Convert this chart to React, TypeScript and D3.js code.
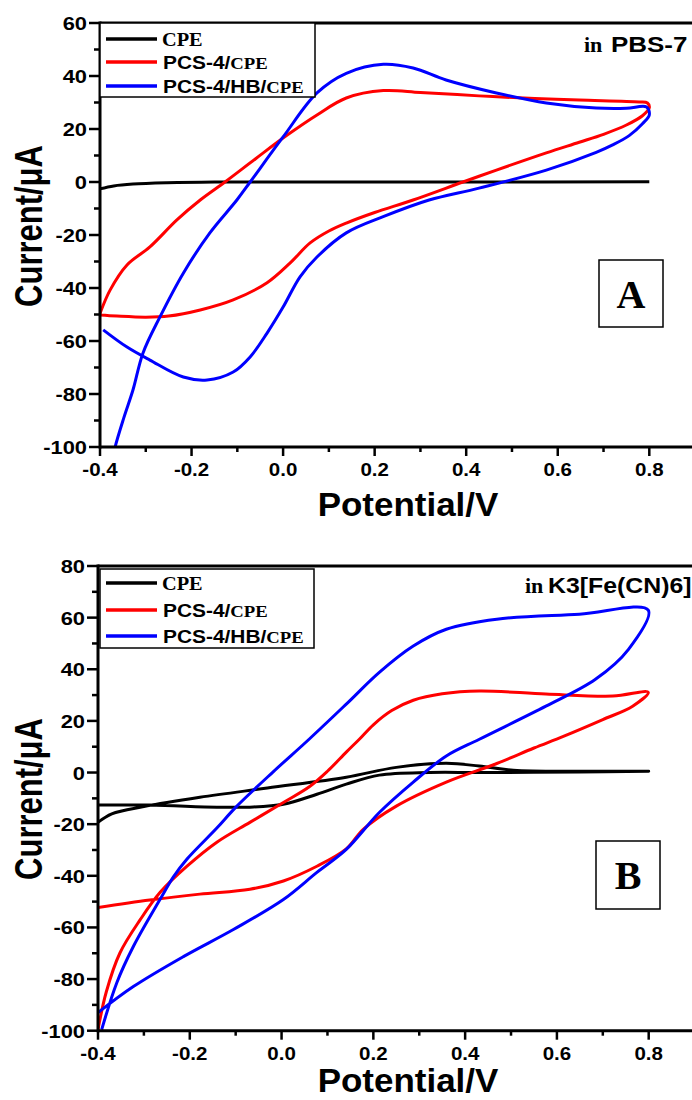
import React from "react";
import * as d3 from "d3";

type Pt = [number, number];

// ---------- Data (potential V, current µA) ----------
const xTickValues = [-0.4, -0.2, 0.0, 0.2, 0.4, 0.6, 0.8];
const xMinorValues = [-0.3, -0.1, 0.1, 0.3, 0.5, 0.7];
const yTicksA = [-100, -80, -60, -40, -20, 0, 20, 40, 60];
const yTicksB = [-100, -80, -60, -40, -20, 0, 20, 40, 60, 80];
const seriesNames = ["CPE", "PCS-4/", "PCS-4/HB/"];
const seriesColors = ["#000000", "#ff0000", "#0000ff"];

const cpeA: Pt[] = [
  [-0.4, -2.6], [-0.37, -1.5], [-0.328, -0.8], [-0.254, -0.3], [-0.15, 0], [0.0, 0], [0.4, 0], [0.8, 0.1],
];
const pcsA: Pt[] = [
  [-0.4, -49.6], [-0.378, -40.8], [-0.341, -31.3], [-0.291, -24.5], [-0.232, -14.3], [-0.181, -6.8],
  [-0.127, 0], [-0.06, 8.8], [0.009, 17.7], [0.074, 25.3], [0.138, 31.7], [0.219, 34.5], [0.3, 33.8],
  [0.428, 32.5], [0.55, 31.5], [0.647, 30.9], [0.778, 30.2], [0.796, 29.8], [0.8, 28],
  [0.785, 25], [0.75, 21.5], [0.7, 18], [0.647, 15], [0.575, 11], [0.466, 4.5], [0.393, 0], [0.284, -6.8],
  [0.2, -11.5], [0.138, -15.5], [0.1, -18.5], [0.059, -23], [0.015, -30.6], [-0.035, -38],
  [-0.109, -44.5], [-0.181, -48.3], [-0.25, -50.6], [-0.3, -51], [-0.363, -50.6], [-0.4, -50.2],
];
const hbA: Pt[] = [
  [-0.374, -106], [-0.367, -100], [-0.348, -89], [-0.328, -78.5], [-0.306, -64.5], [-0.269, -50.9],
  [-0.218, -34.4], [-0.16, -19.2], [-0.101, -6.8], [-0.072, 0], [0.0, 17], [0.074, 33.6], [0.138, 41],
  [0.219, 44.4], [0.284, 43], [0.356, 38.5], [0.466, 33.6], [0.575, 29.8], [0.684, 27.9], [0.75, 27.8],
  [0.794, 28.3], [0.8, 25.3], [0.785, 22], [0.756, 17.5], [0.72, 14], [0.684, 11.2], [0.575, 4.5],
  [0.428, -2.3], [0.319, -6.8], [0.22, -13], [0.138, -19.2], [0.074, -28.3], [0.037, -35.8],
  [0.0, -47.2], [-0.035, -57], [-0.072, -66], [-0.109, -71.7], [-0.166, -74.7], [-0.218, -73.6],
  [-0.291, -67.2], [-0.341, -62.3], [-0.393, -55.8],
];

const cpeB: Pt[] = [
  [-0.4, -19.3], [-0.37, -16], [-0.3, -13.2], [-0.178, -9.6], [-0.031, -6], [0.141, -1.8], [0.25, 2],
  [0.359, 3.6], [0.431, 2.5], [0.505, 0.9], [0.649, 0.5], [0.8, 0.5],
  [0.649, 0.2], [0.43, 0], [0.322, 0], [0.213, -1], [0.141, -4.5], [0.077, -8.4], [0.004, -12.3],
  [-0.069, -13.4], [-0.141, -13.4], [-0.287, -12.6], [-0.4, -12.6],
];
const pcsB: Pt[] = [
  [-0.4, -99.6], [-0.382, -85], [-0.352, -69.8], [-0.308, -57], [-0.265, -46.5], [-0.206, -36.3],
  [-0.141, -27], [-0.069, -19.3], [0.004, -11.6], [0.062, -5.3], [0.1, 0.5], [0.141, 7.9], [0.17, 13],
  [0.2, 18.5], [0.24, 24], [0.287, 28], [0.35, 30.5], [0.431, 31.6], [0.576, 30.4], [0.722, 29.6],
  [0.799, 31.1], [0.765, 25.7], [0.7, 20.5], [0.614, 14], [0.55, 9.5], [0.469, 3.5], [0.359, -3.7],
  [0.25, -13], [0.178, -22], [0.141, -29.6], [0.077, -36.3], [0.004, -42], [-0.069, -45.2],
  [-0.178, -47.1], [-0.287, -49.4], [-0.4, -52.3],
];
const hbB: Pt[] = [
  [-0.392, -99.6], [-0.359, -81.4], [-0.323, -67.4], [-0.265, -49.2], [-0.236, -40.5], [-0.206, -33.5],
  [-0.141, -21.5], [-0.1, -13.5], [-0.02, 0], [0.06, 12.9], [0.141, 26.5], [0.213, 38.8], [0.287, 49],
  [0.359, 55.5], [0.469, 59.4], [0.649, 61.3], [0.799, 62.9],
  [0.756, 47.7], [0.684, 36.1], [0.576, 25.7], [0.431, 12.9], [0.359, 6.4], [0.287, -3.7],
  [0.213, -15.5], [0.141, -29.8], [0.077, -38.7], [0.004, -49.2], [-0.105, -60.8], [-0.214, -71.3],
  [-0.323, -82.9], [-0.4, -93],
];

const SANS = "'Liberation Sans', Arial, sans-serif";
const SERIF = "'Liberation Serif', 'Times New Roman', serif";

function T(props: {
  x: number; y: number; fs: number; sx?: number; family?: string; anchor?: string;
  rotate?: number; children: React.ReactNode;
}) {
  const { x, y, fs, sx = 1, family = SANS, anchor = "start", rotate = 0, children } = props;
  return (
    <text
      transform={`translate(${x},${y}) scale(${sx},1) rotate(${rotate})`}
      fontFamily={family}
      fontWeight="bold"
      fontSize={fs}
      textAnchor={anchor}
      fill="#000"
    >
      {children}
    </text>
  );
}

type PanelProps = {
  id: string;
  xRange: [number, number];
  yDomain: [number, number];
  yRange: [number, number];
  yTicks: number[];
  curves: Pt[][];
  legendBox: [number, number, number, number];
  legendRows: number[];
  inLabel: { x: number; xMain: number; y: number; text: string; sx: number };
  letter: { x: number; y: number; w: number; h: number; text: string };
  yTitleY: number;
  xTitleY: number;
};

function Panel(p: PanelProps) {
  const x = d3.scaleLinear().domain([-0.4, 0.8]).range(p.xRange);
  const y = d3.scaleLinear().domain(p.yDomain).range(p.yRange);
  const x0 = p.xRange[0];
  const yTop = p.yRange[1];
  const yBot = p.yRange[0];
  const line = d3
    .line<Pt>()
    .x((d) => x(d[0]))
    .y((d) => y(d[1]))
    .curve(d3.curveCatmullRom.alpha(0.5));
  const yMinor = p.yTicks.slice(0, -1).map((v) => v + 10);
  const [lx, ly, lw, lh] = p.legendBox;
  return (
    <g>
      <defs>
        <clipPath id={`clip-${p.id}`}>
          <rect x={x0} y={yTop} width={700 - x0} height={yBot - yTop} />
        </clipPath>
      </defs>
      <g clipPath={`url(#clip-${p.id})`}>
        {p.curves.map((c, i) => (
          <path key={i} d={line(c) || ""} fill="none" stroke={seriesColors[i]} strokeWidth={3} strokeLinejoin="round" />
        ))}
      </g>
      {/* frame */}
      <line x1={x0} x2={700} y1={yTop} y2={yTop} stroke="#000" strokeWidth={3} />
      <line x1={x0} x2={x0} y1={yTop - 1.5} y2={yBot + 1.5} stroke="#000" strokeWidth={3} />
      <line x1={x0} x2={700} y1={yBot} y2={yBot} stroke="#000" strokeWidth={3} />
      {/* y ticks */}
      {p.yTicks.map((v) => (
        <g key={`yt${v}`}>
          <line x1={x0 - 11} x2={x0} y1={y(v)} y2={y(v)} stroke="#000" strokeWidth={2.5} />
          <T x={x0 - 13} y={y(v) + 7} fs={19} sx={1.15} anchor="end">{String(v)}</T>
        </g>
      ))}
      {yMinor.map((v) => (
        <line key={`ym${v}`} x1={x0 - 6} x2={x0} y1={y(v)} y2={y(v)} stroke="#000" strokeWidth={2.5} />
      ))}
      {/* x ticks */}
      {xTickValues.map((v) => (
        <g key={`xt${v}`}>
          <line x1={x(v)} x2={x(v)} y1={yBot} y2={yBot + 9} stroke="#000" strokeWidth={2.5} />
          <T x={x(v)} y={yBot + 29} fs={19} sx={1.08} anchor="middle">{v.toFixed(1)}</T>
        </g>
      ))}
      {xMinorValues.map((v) => (
        <line key={`xm${v}`} x1={x(v)} x2={x(v)} y1={yBot} y2={yBot + 5} stroke="#000" strokeWidth={2.5} />
      ))}
      {/* axis titles */}
      <T x={42} y={p.yTitleY} fs={31} sx={1.25} anchor="middle" rotate={-90}>Current/μA</T>
      <T x={408} y={p.xTitleY} fs={33} sx={1.06} anchor="middle">Potential/V</T>
      {/* legend */}
      <rect x={lx} y={ly} width={lw} height={lh} fill="#fff" stroke="#000" strokeWidth={1.5} />
      {seriesNames.map((n, i) => (
        <g key={n}>
          <line x1={lx + 6} x2={lx + 57} y1={p.legendRows[i]} y2={p.legendRows[i]} stroke={seriesColors[i]} strokeWidth={3.5} />
          {i === 0 ? (
            <T x={lx + 62} y={p.legendRows[i] + 6.5} fs={18.5} sx={1.1} family={SERIF}>CPE</T>
          ) : (
            <T x={lx + 63} y={p.legendRows[i] + 6.5} fs={19} sx={1.1}>
              {n}
              <tspan fontFamily={SERIF} fontSize={17}>CPE</tspan>
            </T>
          )}
        </g>
      ))}
      {/* medium label */}
      <T x={p.inLabel.x} y={p.inLabel.y} fs={22} family={SERIF}>in</T>
      <T x={p.inLabel.xMain} y={p.inLabel.y} fs={22} sx={p.inLabel.sx}>{p.inLabel.text}</T>
      {/* panel letter */}
      <rect x={p.letter.x} y={p.letter.y} width={p.letter.w} height={p.letter.h} fill="#fff" stroke="#000" strokeWidth={1.5} />
      <T x={p.letter.x + p.letter.w / 2} y={p.letter.y + p.letter.h / 2 + 14} fs={40} family={SERIF} anchor="middle">
        {p.letter.text}
      </T>
    </g>
  );
}

export default function App() {
  return (
    <svg
      width={692}
      height={1100}
      viewBox="0 0 692 1100"
      style={{ position: "absolute", left: 0, top: 0, background: "#fff" }}
    >
      <rect x={0} y={0} width={692} height={1100} fill="#fff" />
      <Panel
        id="A"
        xRange={[100, 649.3]}
        yDomain={[-100, 60]}
        yRange={[447, 23]}
        yTicks={yTicksA}
        curves={[cpeA, pcsA, hbA]}
        legendBox={[100, 23, 215, 74]}
        legendRows={[39, 62, 86]}
        inLabel={{ x: 584, xMain: 611, y: 52, text: "PBS-7", sx: 1.18 }}
        letter={{ x: 599, y: 260, w: 64, h: 67, text: "A" }}
        yTitleY={226}
        xTitleY={516}
      />
      <Panel
        id="B"
        xRange={[98, 648.7]}
        yDomain={[-100, 80]}
        yRange={[1030.7, 566]}
        yTicks={yTicksB}
        curves={[cpeB, pcsB, hbB]}
        legendBox={[100, 569, 214, 79]}
        legendRows={[583, 610, 636]}
        inLabel={{ x: 525, xMain: 548, y: 593, text: "K3[Fe(CN)6]", sx: 1.13 }}
        letter={{ x: 596, y: 841, w: 64, h: 68, text: "B" }}
        yTitleY={799}
        xTitleY={1092}
      />
    </svg>
  );
}
